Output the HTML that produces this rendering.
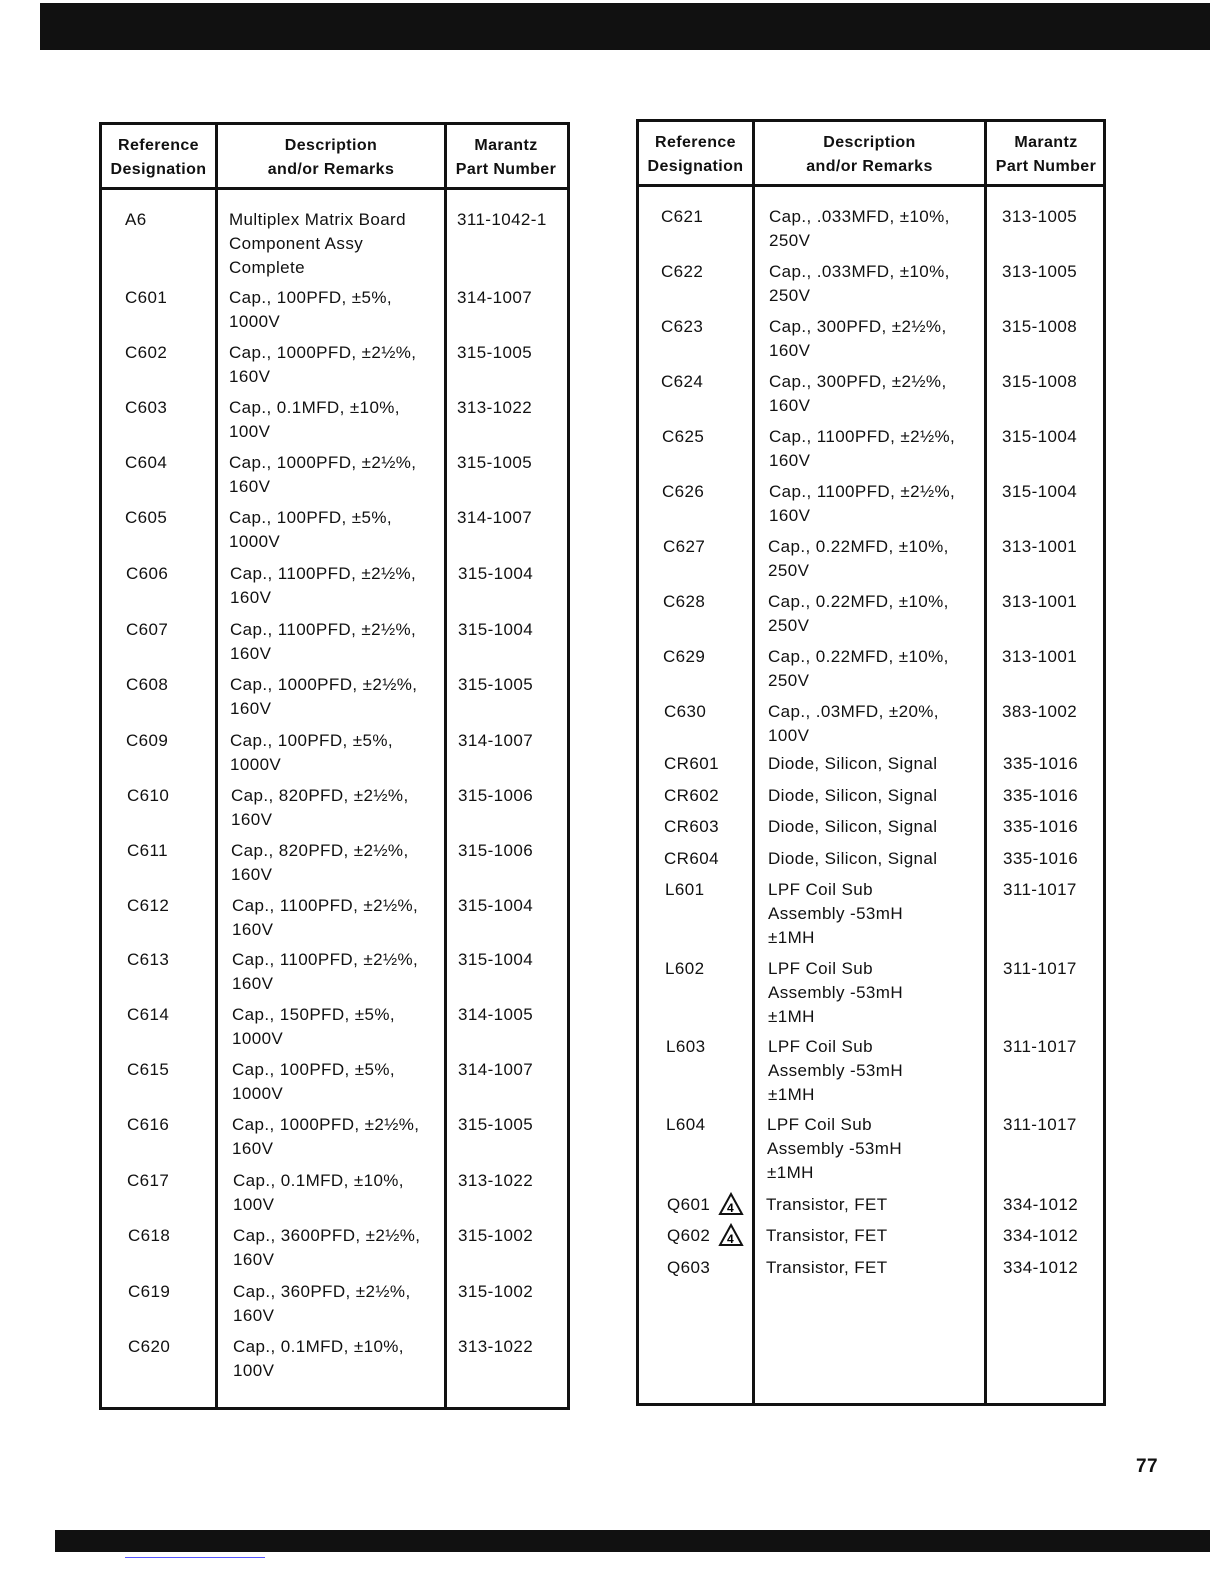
<!DOCTYPE html>
<html><head><meta charset="utf-8"><style>
body{margin:0;background:#fff;}
#p{position:relative;width:1224px;height:1584px;overflow:hidden;font-family:"Liberation Sans",sans-serif;color:#111;font-size:17px;letter-spacing:0.4px;}
.b{position:absolute;background:#111;}
.t{position:absolute;line-height:24px;white-space:nowrap;}
.h{position:absolute;font-weight:bold;font-size:16px;line-height:24px;text-align:center;}
</style></head><body><div id="p">
<div class="b" style="left:40px;top:3px;width:1170px;height:47px"></div>
<div class="b" style="left:55px;top:1530px;width:1155px;height:22px"></div>
<div style="position:absolute;left:125px;top:1557px;width:140px;height:1px;background:#55f"></div>

<!-- left table -->
<div style="position:absolute;left:99px;top:122px;width:465px;height:1282px;border:3px solid #111"></div>
<div class="b" style="left:99px;top:187px;width:470px;height:3px"></div>
<div class="b" style="left:215px;top:122px;width:3px;height:1286px"></div>
<div class="b" style="left:444px;top:122px;width:3px;height:1286px"></div>
<div class="h" style="left:102px;top:134px;width:113px">Reference<br>Designation</div>
<div class="h" style="left:218px;top:134px;width:226px">Description<br>and/or Remarks</div>
<div class="h" style="left:447px;top:134px;width:118px">Marantz<br>Part Number</div>

<!-- right table -->
<div style="position:absolute;left:636px;top:119px;width:464px;height:1281px;border:3px solid #111"></div>
<div class="b" style="left:636px;top:184px;width:470px;height:3px"></div>
<div class="b" style="left:752px;top:119px;width:3px;height:1286px"></div>
<div class="b" style="left:984px;top:119px;width:3px;height:1286px"></div>
<div class="h" style="left:639px;top:131px;width:113px">Reference<br>Designation</div>
<div class="h" style="left:755px;top:131px;width:229px">Description<br>and/or Remarks</div>
<div class="h" style="left:987px;top:131px;width:118px">Marantz<br>Part Number</div>

<!-- left rows -->
<div class="t" style="left:125px;top:208px">A6</div><div class="t" style="left:229px;top:208px">Multiplex Matrix Board<br>Component Assy<br>Complete</div><div class="t" style="left:457px;top:208px">311-1042-1</div>
<div class="t" style="left:125px;top:286px">C601</div><div class="t" style="left:229px;top:286px">Cap., 100PFD, ±5%,<br>1000V</div><div class="t" style="left:457px;top:286px">314-1007</div>
<div class="t" style="left:125px;top:341px">C602</div><div class="t" style="left:229px;top:341px">Cap., 1000PFD, ±2½%,<br>160V</div><div class="t" style="left:457px;top:341px">315-1005</div>
<div class="t" style="left:125px;top:396px">C603</div><div class="t" style="left:229px;top:396px">Cap., 0.1MFD, ±10%,<br>100V</div><div class="t" style="left:457px;top:396px">313-1022</div>
<div class="t" style="left:125px;top:451px">C604</div><div class="t" style="left:229px;top:451px">Cap., 1000PFD, ±2½%,<br>160V</div><div class="t" style="left:457px;top:451px">315-1005</div>
<div class="t" style="left:125px;top:506px">C605</div><div class="t" style="left:229px;top:506px">Cap., 100PFD, ±5%,<br>1000V</div><div class="t" style="left:457px;top:506px">314-1007</div>
<div class="t" style="left:126px;top:562px">C606</div><div class="t" style="left:230px;top:562px">Cap., 1100PFD, ±2½%,<br>160V</div><div class="t" style="left:458px;top:562px">315-1004</div>
<div class="t" style="left:126px;top:618px">C607</div><div class="t" style="left:230px;top:618px">Cap., 1100PFD, ±2½%,<br>160V</div><div class="t" style="left:458px;top:618px">315-1004</div>
<div class="t" style="left:126px;top:673px">C608</div><div class="t" style="left:230px;top:673px">Cap., 1000PFD, ±2½%,<br>160V</div><div class="t" style="left:458px;top:673px">315-1005</div>
<div class="t" style="left:126px;top:729px">C609</div><div class="t" style="left:230px;top:729px">Cap., 100PFD, ±5%,<br>1000V</div><div class="t" style="left:458px;top:729px">314-1007</div>
<div class="t" style="left:127px;top:784px">C610</div><div class="t" style="left:231px;top:784px">Cap., 820PFD, ±2½%,<br>160V</div><div class="t" style="left:458px;top:784px">315-1006</div>
<div class="t" style="left:127px;top:839px">C611</div><div class="t" style="left:231px;top:839px">Cap., 820PFD, ±2½%,<br>160V</div><div class="t" style="left:458px;top:839px">315-1006</div>
<div class="t" style="left:127px;top:894px">C612</div><div class="t" style="left:232px;top:894px">Cap., 1100PFD, ±2½%,<br>160V</div><div class="t" style="left:458px;top:894px">315-1004</div>
<div class="t" style="left:127px;top:948px">C613</div><div class="t" style="left:232px;top:948px">Cap., 1100PFD, ±2½%,<br>160V</div><div class="t" style="left:458px;top:948px">315-1004</div>
<div class="t" style="left:127px;top:1003px">C614</div><div class="t" style="left:232px;top:1003px">Cap., 150PFD, ±5%,<br>1000V</div><div class="t" style="left:458px;top:1003px">314-1005</div>
<div class="t" style="left:127px;top:1058px">C615</div><div class="t" style="left:232px;top:1058px">Cap., 100PFD, ±5%,<br>1000V</div><div class="t" style="left:458px;top:1058px">314-1007</div>
<div class="t" style="left:127px;top:1113px">C616</div><div class="t" style="left:232px;top:1113px">Cap., 1000PFD, ±2½%,<br>160V</div><div class="t" style="left:458px;top:1113px">315-1005</div>
<div class="t" style="left:127px;top:1169px">C617</div><div class="t" style="left:233px;top:1169px">Cap., 0.1MFD, ±10%,<br>100V</div><div class="t" style="left:458px;top:1169px">313-1022</div>
<div class="t" style="left:128px;top:1224px">C618</div><div class="t" style="left:233px;top:1224px">Cap., 3600PFD, ±2½%,<br>160V</div><div class="t" style="left:458px;top:1224px">315-1002</div>
<div class="t" style="left:128px;top:1280px">C619</div><div class="t" style="left:233px;top:1280px">Cap., 360PFD, ±2½%,<br>160V</div><div class="t" style="left:458px;top:1280px">315-1002</div>
<div class="t" style="left:128px;top:1335px">C620</div><div class="t" style="left:233px;top:1335px">Cap., 0.1MFD, ±10%,<br>100V</div><div class="t" style="left:458px;top:1335px">313-1022</div>

<!-- right rows -->
<div class="t" style="left:661px;top:205px">C621</div><div class="t" style="left:769px;top:205px">Cap., .033MFD, ±10%,<br>250V</div><div class="t" style="left:1002px;top:205px">313-1005</div>
<div class="t" style="left:661px;top:260px">C622</div><div class="t" style="left:769px;top:260px">Cap., .033MFD, ±10%,<br>250V</div><div class="t" style="left:1002px;top:260px">313-1005</div>
<div class="t" style="left:661px;top:315px">C623</div><div class="t" style="left:769px;top:315px">Cap., 300PFD, ±2½%,<br>160V</div><div class="t" style="left:1002px;top:315px">315-1008</div>
<div class="t" style="left:661px;top:370px">C624</div><div class="t" style="left:769px;top:370px">Cap., 300PFD, ±2½%,<br>160V</div><div class="t" style="left:1002px;top:370px">315-1008</div>
<div class="t" style="left:662px;top:425px">C625</div><div class="t" style="left:769px;top:425px">Cap., 1100PFD, ±2½%,<br>160V</div><div class="t" style="left:1002px;top:425px">315-1004</div>
<div class="t" style="left:662px;top:480px">C626</div><div class="t" style="left:769px;top:480px">Cap., 1100PFD, ±2½%,<br>160V</div><div class="t" style="left:1002px;top:480px">315-1004</div>
<div class="t" style="left:663px;top:535px">C627</div><div class="t" style="left:768px;top:535px">Cap., 0.22MFD, ±10%,<br>250V</div><div class="t" style="left:1002px;top:535px">313-1001</div>
<div class="t" style="left:663px;top:590px">C628</div><div class="t" style="left:768px;top:590px">Cap., 0.22MFD, ±10%,<br>250V</div><div class="t" style="left:1002px;top:590px">313-1001</div>
<div class="t" style="left:663px;top:645px">C629</div><div class="t" style="left:768px;top:645px">Cap., 0.22MFD, ±10%,<br>250V</div><div class="t" style="left:1002px;top:645px">313-1001</div>
<div class="t" style="left:664px;top:700px">C630</div><div class="t" style="left:768px;top:700px">Cap., .03MFD, ±20%,<br>100V</div><div class="t" style="left:1002px;top:700px">383-1002</div>
<div class="t" style="left:664px;top:752px">CR601</div><div class="t" style="left:768px;top:752px">Diode, Silicon, Signal</div><div class="t" style="left:1003px;top:752px">335-1016</div>
<div class="t" style="left:664px;top:784px">CR602</div><div class="t" style="left:768px;top:784px">Diode, Silicon, Signal</div><div class="t" style="left:1003px;top:784px">335-1016</div>
<div class="t" style="left:664px;top:815px">CR603</div><div class="t" style="left:768px;top:815px">Diode, Silicon, Signal</div><div class="t" style="left:1003px;top:815px">335-1016</div>
<div class="t" style="left:664px;top:847px">CR604</div><div class="t" style="left:768px;top:847px">Diode, Silicon, Signal</div><div class="t" style="left:1003px;top:847px">335-1016</div>
<div class="t" style="left:665px;top:878px">L601</div><div class="t" style="left:768px;top:878px">LPF Coil Sub<br>Assembly -53mH<br>±1MH</div><div class="t" style="left:1003px;top:878px">311-1017</div>
<div class="t" style="left:665px;top:957px">L602</div><div class="t" style="left:768px;top:957px">LPF Coil Sub<br>Assembly -53mH<br>±1MH</div><div class="t" style="left:1003px;top:957px">311-1017</div>
<div class="t" style="left:666px;top:1035px">L603</div><div class="t" style="left:768px;top:1035px">LPF Coil Sub<br>Assembly -53mH<br>±1MH</div><div class="t" style="left:1003px;top:1035px">311-1017</div>
<div class="t" style="left:666px;top:1113px">L604</div><div class="t" style="left:767px;top:1113px">LPF Coil Sub<br>Assembly -53mH<br>±1MH</div><div class="t" style="left:1003px;top:1113px">311-1017</div>
<div class="t" style="left:667px;top:1193px">Q601</div><svg style="position:absolute;left:718px;top:1192px" width="26" height="24"><polygon points="13,2 24,22 2,22" fill="none" stroke="#111" stroke-width="2"/><text x="9" y="20" font-size="12" font-family="Liberation Sans" font-weight="bold">4</text></svg><div class="t" style="left:766px;top:1193px">Transistor, FET</div><div class="t" style="left:1003px;top:1193px">334-1012</div>
<div class="t" style="left:667px;top:1224px">Q602</div><svg style="position:absolute;left:718px;top:1223px" width="26" height="24"><polygon points="13,2 24,22 2,22" fill="none" stroke="#111" stroke-width="2"/><text x="9" y="20" font-size="12" font-family="Liberation Sans" font-weight="bold">4</text></svg><div class="t" style="left:766px;top:1224px">Transistor, FET</div><div class="t" style="left:1003px;top:1224px">334-1012</div>
<div class="t" style="left:667px;top:1256px">Q603</div><div class="t" style="left:766px;top:1256px">Transistor, FET</div><div class="t" style="left:1003px;top:1256px">334-1012</div>

<div class="t" style="left:1136px;top:1455px;font-weight:bold;font-size:19px">77</div>
</div></body></html>
